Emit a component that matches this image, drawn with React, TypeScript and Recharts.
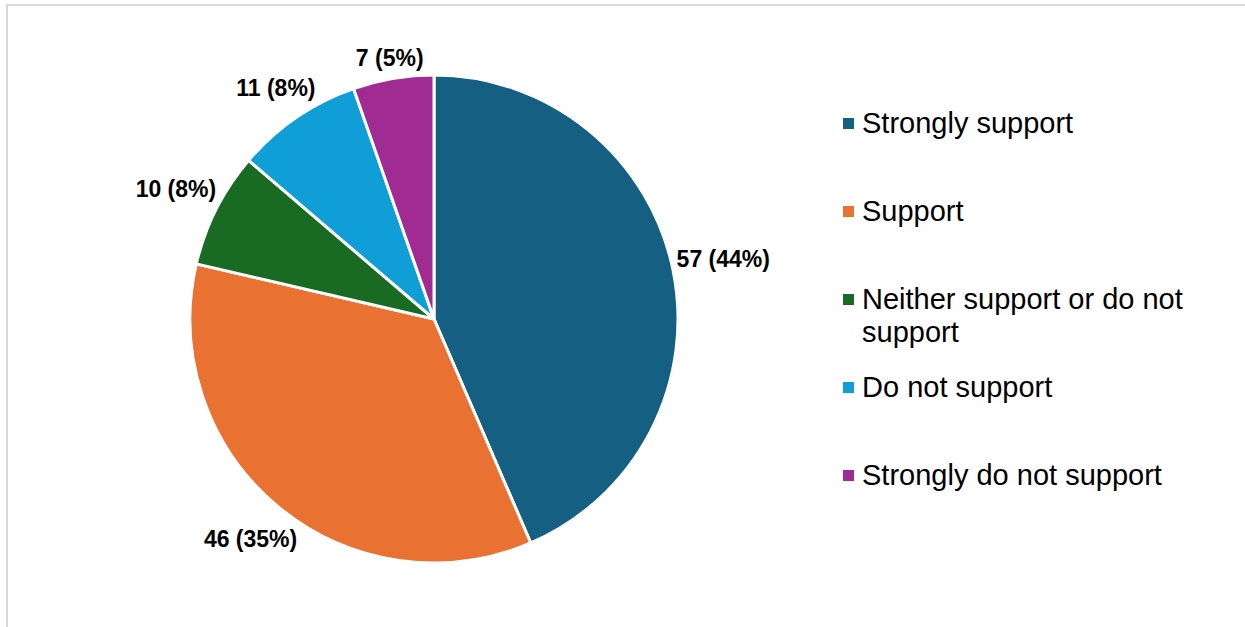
import React from "react";
import { PieChart, Pie, Cell, Legend } from "recharts";

const categories = [
  "Strongly support",
  "Support",
  "Neither support or do not support",
  "Do not support",
  "Strongly do not support",
];
const responses = [57, 46, 10, 11, 7];
const colors = ["#156082", "#E97132", "#196B24", "#0F9ED5", "#A02B93"];

const data = categories.map((name, i) => ({ name, value: responses[i] }));

const FONT = "'Liberation Sans', Arial, sans-serif";
const RAD = Math.PI / 180;

// label sits just outside the slice, centred on the mid angle
const renderLabel = (props: any) => {
  const { cx, cy, midAngle, outerRadius, value, percent } = props;
  const text = `${value} (${Math.round(percent * 100)}%)`;
  const fontSize = 23;
  const w = text.length * fontSize * 0.5;
  const h = fontSize;
  const c = Math.cos(-midAngle * RAD);
  const s = Math.sin(-midAngle * RAD);
  const d = outerRadius + 4 + Math.abs(c) * (w / 2) + Math.abs(s) * (h / 2);
  return (
    <text
      x={cx + d * c}
      y={cy + d * s}
      textAnchor="middle"
      dominantBaseline="central"
      fontFamily={FONT}
      fontWeight="bold"
      fontSize={fontSize}
      fill="#000"
    >
      {text}
    </text>
  );
};

const renderLegend = () => (
  <div style={{ fontFamily: FONT }}>
    {data.map((d, i) => (
      <div key={d.name} style={{ display: "flex", alignItems: "flex-start", height: 88 }}>
        <div
          style={{
            width: 11,
            height: 11,
            marginTop: 11,
            marginRight: 8,
            background: colors[i],
            flexShrink: 0,
          }}
        />
        <div style={{ width: 340, fontSize: 29, lineHeight: "33px", color: "#000" }}>{d.name}</div>
      </div>
    ))}
  </div>
);

export default function App() {
  return (
    <div
      style={{
        position: "absolute",
        left: 0,
        top: 0,
        width: 1245,
        height: 627,
        overflow: "hidden",
        background: "#fff",
      }}
    >
      <div
        style={{
          position: "absolute",
          left: 6,
          top: 4,
          width: 1300,
          height: 700,
          border: "2px solid #D9D9D9",
        }}
      />
      <div style={{ position: "absolute", left: 0, top: 0 }}>
        <PieChart width={1245} height={627} margin={{ top: 0, right: 0, bottom: 0, left: 0 }}>
          <Pie
            data={data}
            dataKey="value"
            nameKey="name"
            cx={434}
            cy={319}
            outerRadius={244}
            startAngle={90}
            endAngle={-270}
            stroke="#fff"
            strokeWidth={3}
            label={renderLabel}
            labelLine={false}
            isAnimationActive={false}
          >
            {data.map((d, i) => (
              <Cell key={d.name} fill={colors[i]} />
            ))}
          </Pie>
          <Legend
            layout="vertical"
            align="right"
            verticalAlign="top"
            content={renderLegend}
            wrapperStyle={{ position: "absolute", left: 843, top: 107, width: 380 }}
          />
        </PieChart>
      </div>
    </div>
  );
}
